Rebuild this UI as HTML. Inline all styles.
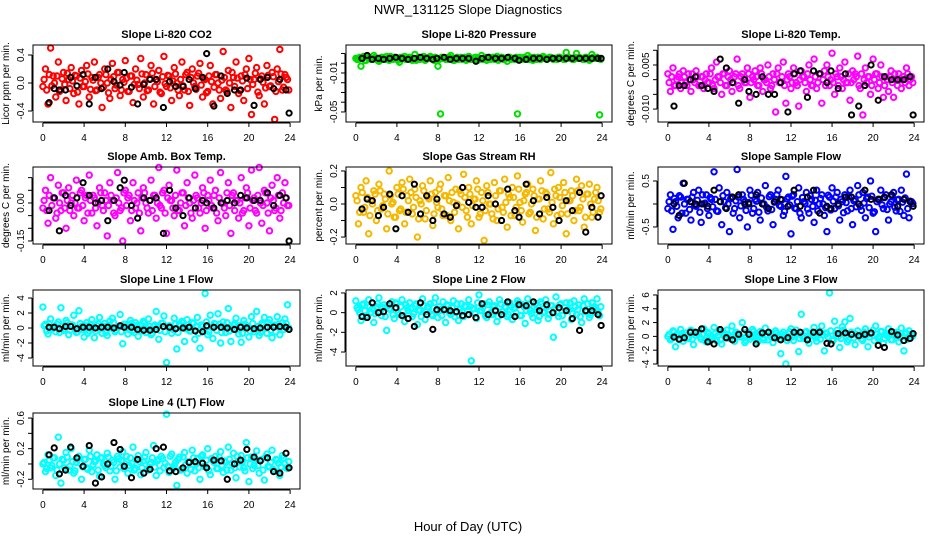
<!DOCTYPE html>
<html><head><meta charset="utf-8"><style>
body{margin:0;background:#fff}
svg{display:block;font-family:"Liberation Sans",sans-serif}
</style></head><body>
<svg id="chart" width="936" height="540" viewBox="0 0 936 540">
<rect width="936" height="540" fill="#fff"/>
<text x="468" y="14" font-size="13" text-anchor="middle">NWR_131125  Slope Diagnostics</text>
<text x="468" y="531" font-size="13" text-anchor="middle">Hour of Day (UTC)</text>
</svg>
<script>
const hours = [0,0.25,0.5,0.75,1,1.25,1.5,1.75,2,2.25,2.5,2.75,3,3.25,3.5,3.75,4,4.25,4.5,4.75,5,5.25,5.5,5.75,6,6.25,6.5,6.75,7,7.25,7.5,7.75,8,8.25,8.5,8.75,9,9.25,9.5,9.75,10,10.25,10.5,10.75,11,11.25,11.5,11.75,12,12.25,12.5,12.75,13,13.25,13.5,13.75,14,14.25,14.5,14.75,15,15.25,15.5,15.75,16,16.25,16.5,16.75,17,17.25,17.5,17.75,18,18.25,18.5,18.75,19,19.25,19.5,19.75,20,20.25,20.5,20.75,21,21.25,21.5,21.75,22,22.25,22.5,22.75,23,23.25,23.5,23.75];
const coreHours = [0.12,0.37,0.62,0.87,1.12,1.37,1.62,1.87,2.12,2.37,2.62,2.87,3.12,3.37,3.62,3.87,4.12,4.37,4.62,4.87,5.12,5.37,5.62,5.87,6.12,6.37,6.62,6.87,7.12,7.37,7.62,7.87,8.12,8.37,8.62,8.87,9.12,9.37,9.62,9.87,10.12,10.37,10.62,10.87,11.12,11.37,11.62,11.87,12.12,12.37,12.62,12.87,13.12,13.37,13.62,13.87,14.12,14.37,14.62,14.87,15.12,15.37,15.62,15.87,16.12,16.37,16.62,16.87,17.12,17.37,17.62,17.87,18.12,18.37,18.62,18.87,19.12,19.37,19.62,19.87,20.12,20.37,20.62,20.87,21.12,21.37,21.62,21.87,22.12,22.37,22.62,22.87,23.12,23.37,23.62,23.87];
const blackHours = [0.6,1.1,1.6,2.2,2.7,3.3,3.9,4.5,5.1,5.7,6.3,6.9,7.5,7.9,8.6,9.2,9.8,10.4,11.0,11.7,12.3,12.9,13.6,14.2,14.8,15.5,15.9,16.6,17.3,17.9,18.6,19.2,19.8,20.5,21.1,21.8,22.4,23.0,23.6,23.9];
const xTicks = [0,4,8,12,16,20,24];

const co2 = [-0.05,0.2,-0.3,0.5,0.1,-0.2,0.3,-0.1,0.15,-0.25,0.05,0.22,-0.15,0.1,-0.3,0.18,-0.05,0.25,-0.2,0.08,0.3,-0.1,0.12,-0.35,0.2,0.0,-0.22,0.28,-0.08,0.15,-0.18,0.05,0.32,-0.12,0.1,-0.28,0.2,-0.02,0.35,-0.2,0.12,-0.1,0.25,-0.3,0.05,0.18,-0.15,0.38,-0.05,0.1,-0.25,0.22,0.0,-0.18,0.3,-0.1,0.15,-0.32,0.2,-0.05,0.1,0.28,-0.2,0.05,-0.12,0.25,-0.3,0.12,0.0,-0.22,0.45,-0.1,0.18,-0.35,0.08,0.3,-0.15,0.1,-0.25,0.2,0.35,-0.45,0.05,0.22,-0.18,0.1,-0.3,0.25,-0.05,0.15,-0.52,0.2,0.48,-0.1,0.12,0.05];
const co2Core = [0.05,-0.1,0.12,-0.04,0.0,0.1,-0.12,0.06,-0.02,0.14,-0.08,0.03,0.11,-0.13,0.07,-0.05,0.02,0.13,-0.09,0.04,-0.11,0.08,0.0,-0.06,0.12,-0.14,0.05,0.09,-0.03,0.15,-0.1,0.01,0.07,-0.12,0.1,-0.02,0.04,-0.08,0.13,0.0,-0.11,0.06,0.14,-0.05,0.02,-0.13,0.09,-0.01,0.11,-0.07,0.03,0.13,-0.1,0.05,-0.04,0.12,-0.12,0.08,0.0,-0.09,0.14,-0.03,0.06,-0.14,0.1,0.02,-0.06,0.12,-0.1,0.04,0.08,-0.12,0.0,0.15,-0.05,0.07,-0.11,0.03,0.12,-0.08,0.05,-0.02,0.14,-0.13,0.06,0.01,-0.07,0.11,-0.04,0.09,-0.12,0.02,0.13,-0.06,0.08,-0.1];
const co2Black = [-0.28,-0.08,-0.1,-0.1,0.08,-0.04,0.12,-0.3,0.08,-0.08,0.2,0.02,-0.03,0.15,-0.06,-0.3,-0.02,0.05,0.05,-0.35,0.02,-0.05,-0.05,0.05,-0.08,0.08,0.42,-0.33,0.1,-0.15,-0.1,-0.1,0.07,-0.32,0.05,0.08,-0.08,0.05,-0.1,-0.43];
const pres = [0.005,0.004,-0.003,0.007,0.003,0.006,0.004,0.008,0.005,0.002,0.006,0.004,0.007,0.003,0.005,0.006,0.004,0.001,0.005,0.007,0.004,0.006,0.003,0.009,0.005,0.004,0.006,0.003,0.005,0.007,0.004,0.006,-0.003,-0.052,0.005,0.004,0.006,0.008,0.003,0.005,0.004,0.006,0.005,0.003,0.007,0.004,0.005,0.006,0.004,0.008,0.005,0.003,0.006,0.005,0.004,0.007,0.005,0.006,0.004,0.002,0.006,0.005,0.004,-0.052,0.006,0.005,0.004,0.008,0.006,0.003,0.005,0.006,0.004,0.007,0.005,0.005,0.006,0.004,0.005,0.006,0.005,0.004,0.011,0.006,0.005,0.004,0.01,0.006,0.005,0.004,0.006,0.003,0.009,0.005,0.006,-0.053];
const presCore = [0.004,0.006,0.005,0.003,0.006,0.005,0.004,0.006,0.003,0.005,0.006,0.004,0.005,0.007,0.004,0.005,0.003,0.006,0.005,0.004,0.006,0.005,0.004,0.003,0.006,0.005,0.007,0.004,0.005,0.006,0.003,0.005,0.004,0.006,0.005,0.004,0.006,0.005,0.003,0.006,0.005,0.004,0.006,0.005,0.004,0.005,0.006,0.003,0.005,0.004,0.006,0.005,0.004,0.006,0.005,0.003,0.006,0.004,0.005,0.006,0.004,0.005,0.006,0.005,0.004,0.006,0.005,0.004,0.005,0.006,0.004,0.005,0.006,0.005,0.004,0.006,0.005,0.005,0.004,0.006,0.005,0.004,0.006,0.005,0.004,0.006,0.005,0.005,0.004,0.006,0.005,0.004,0.006,0.005,0.005,0.004];
const presBlack = [0.005,0.008,0.004,0.005,0.004,0.005,0.006,0.005,0.004,0.005,0.006,0.005,0.004,0.005,0.006,0.004,0.005,0.005,0.005,0.002,0.005,0.006,0.005,0.005,0.006,0.005,0.003,0.004,0.005,0.005,0.004,0.005,0.005,0.005,0.005,0.005,0.005,0.005,0.005,0.005];
const temp = [0.002,-0.004,0.004,-0.002,0.001,-0.003,0.003,-0.001,0.002,-0.004,0.0,0.003,-0.002,0.001,-0.003,0.002,-0.001,0.004,-0.003,0.006,0.001,-0.005,0.002,-0.002,0.003,-0.004,0.001,0.007,-0.003,0.002,-0.001,0.004,-0.006,0.001,0.003,-0.002,0.004,-0.004,0.0,0.005,-0.003,0.002,-0.011,0.004,-0.001,0.006,-0.008,0.002,-0.003,0.004,-0.001,-0.009,0.003,0.001,-0.004,0.005,-0.002,0.007,-0.003,0.002,-0.008,0.003,0.005,-0.002,0.009,-0.005,0.001,0.004,-0.003,0.006,-0.001,-0.007,0.003,0.002,0.008,-0.003,-0.012,0.004,0.001,-0.005,0.007,0.002,-0.003,0.005,-0.006,0.001,-0.004,0.003,-0.006,0.0,0.002,-0.003,0.001,0.004,-0.002,0.001];
const tempCore = [-0.001,0.001,-0.002,0.0,0.002,-0.001,0.001,-0.002,0.0,0.002,-0.001,0.001,-0.002,0.001,0.0,-0.001,0.002,-0.002,0.0,0.001,-0.001,0.002,-0.002,0.001,0.0,-0.001,0.002,-0.002,0.001,0.0,-0.001,0.002,-0.001,0.0,0.001,-0.002,0.002,0.0,-0.001,0.001,-0.002,0.0,0.002,-0.001,0.001,-0.002,0.0,0.001,-0.001,0.002,-0.002,0.0,0.001,-0.001,0.002,0.0,-0.002,0.001,-0.001,0.002,0.0,-0.002,0.001,0.0,-0.001,0.002,-0.002,0.001,0.0,-0.001,0.002,-0.001,0.0,0.001,-0.002,0.002,0.0,-0.001,0.001,-0.002,0.0,0.002,-0.001,0.001,-0.002,0.0,0.001,-0.001,0.002,-0.002,0.0,0.001,-0.001,0.002,0.0,-0.001];
const tempBlack = [-0.009,-0.002,-0.002,0.0,0.001,-0.002,-0.003,-0.004,0.007,0.004,-0.001,-0.008,0.0,-0.004,-0.005,0.001,-0.005,-0.005,-0.001,-0.011,0.002,0.003,-0.006,0.003,0.002,-0.001,0.003,-0.003,0.002,-0.012,-0.009,-0.002,0.005,-0.007,0.001,0.0,0.0,0.0,0.001,-0.012];
const amb = [-0.02,0.05,-0.08,0.1,0.02,-0.06,0.07,-0.03,0.04,-0.1,0.06,0.0,-0.05,0.09,-0.02,0.05,-0.07,0.03,0.11,-0.04,0.02,-0.09,0.06,-0.01,0.04,-0.13,0.08,0.01,-0.05,0.12,-0.03,-0.15,0.05,0.02,-0.07,0.08,-0.02,0.04,-0.11,0.06,0.0,-0.04,0.09,0.03,-0.06,0.14,-0.02,0.05,-0.12,0.07,0.01,-0.05,0.13,-0.03,0.04,-0.09,0.08,0.0,-0.06,0.11,0.02,-0.04,0.06,-0.1,0.03,0.09,-0.02,0.05,-0.07,0.12,0.0,-0.05,0.08,-0.12,0.04,0.01,-0.06,0.1,-0.03,0.06,-0.09,0.13,0.02,-0.04,0.14,-0.08,0.05,0.0,-0.11,0.07,-0.03,0.1,-0.06,0.04,0.08,-0.01];
const ambCore = [0.01,-0.03,0.03,-0.01,0.02,-0.04,0.0,0.04,-0.02,0.01,-0.03,0.03,0.0,-0.02,0.04,-0.01,0.02,-0.04,0.01,0.03,-0.02,0.0,0.04,-0.03,0.01,-0.01,0.03,-0.04,0.02,0.0,-0.02,0.04,-0.01,0.03,-0.03,0.01,0.0,-0.04,0.02,0.04,-0.02,0.01,-0.03,0.03,0.0,-0.01,0.04,-0.04,0.02,0.01,-0.02,0.03,-0.03,0.0,0.04,-0.01,0.02,-0.04,0.01,0.03,-0.02,0.0,0.04,-0.03,0.01,-0.01,0.03,-0.04,0.02,0.0,-0.02,0.04,-0.01,0.03,-0.03,0.01,0.0,-0.04,0.02,0.04,-0.02,0.01,-0.03,0.03,0.0,-0.01,0.04,-0.04,0.02,0.01,-0.02,0.03,-0.03,0.0,0.02,-0.01];
const ambBlack = [-0.03,0.02,-0.11,0.03,-0.01,0.02,0.08,0.03,0.0,0.01,-0.07,0.01,0.06,0.09,-0.01,-0.06,0.02,0.01,0.02,-0.12,0.05,-0.02,-0.05,0.02,-0.02,0.01,0.0,-0.02,0.0,0.01,0.0,0.03,0.02,0.01,0.01,0.04,-0.01,0.03,0.02,-0.15];
const rh = [0.05,-0.12,0.1,-0.05,0.14,-0.18,0.02,0.08,-0.1,0.12,-0.03,0.06,-0.15,0.2,0.0,-0.08,0.1,-0.04,0.13,-0.12,0.05,0.15,-0.06,0.09,-0.2,0.02,0.11,-0.09,0.04,0.14,-0.13,0.07,-0.02,0.12,-0.07,0.05,0.16,-0.1,0.01,0.09,-0.15,0.06,0.18,-0.04,0.1,-0.12,0.03,0.14,-0.08,0.07,-0.22,0.11,0.0,-0.06,0.13,-0.1,0.08,-0.02,0.15,-0.14,0.04,0.1,-0.07,0.17,0.01,-0.11,0.06,0.12,-0.05,0.09,-0.16,0.03,0.14,-0.09,0.07,-0.03,0.19,-0.12,0.05,0.1,-0.06,0.13,-0.18,0.02,0.08,-0.1,0.15,-0.04,0.11,-0.14,0.06,0.12,-0.08,0.03,0.1,-0.05];
const rhCore = [0.02,-0.05,0.07,-0.02,0.04,-0.07,0.0,0.06,-0.04,0.08,-0.01,0.03,-0.06,0.05,0.01,-0.08,0.06,-0.03,0.09,-0.05,0.02,0.07,-0.02,0.04,-0.09,0.0,0.08,-0.04,0.03,0.06,-0.06,0.01,0.09,-0.03,0.05,-0.07,0.02,0.07,-0.05,0.0,0.08,-0.02,0.04,-0.08,0.06,-0.01,0.03,0.09,-0.06,0.02,-0.04,0.07,0.0,-0.09,0.05,-0.03,0.08,-0.05,0.01,0.06,-0.07,0.04,-0.02,0.09,-0.04,0.02,0.07,-0.06,0.0,0.05,-0.08,0.03,0.08,-0.03,0.06,-0.05,0.01,0.09,-0.07,0.04,-0.01,0.07,-0.06,0.02,0.05,-0.04,0.08,-0.02,0.03,-0.08,0.06,0.0,-0.05,0.07,0.02,-0.03];
const rhBlack = [-0.03,0.03,0.02,-0.07,-0.02,0.06,-0.15,0.05,-0.05,0.12,-0.06,0.05,-0.1,0.03,-0.06,-0.08,-0.01,0.1,0.01,-0.02,-0.02,0.05,0.0,-0.1,0.09,-0.04,-0.08,0.12,0.02,-0.06,0.04,-0.02,-0.1,0.02,-0.04,0.07,-0.17,-0.02,-0.08,0.05];
const flow = [-0.1,0.2,-0.55,0.05,-0.3,0.15,0.45,-0.2,0.1,-0.35,0.25,-0.05,0.3,-0.4,0.0,0.2,-0.25,0.1,0.7,-0.15,0.35,-0.45,0.05,0.25,-0.6,0.15,-0.1,0.75,-0.3,0.2,0.05,-0.5,0.3,-0.2,0.1,0.25,-0.35,0.0,0.4,-0.15,0.2,-0.45,0.1,0.3,-0.05,-0.25,0.6,0.15,-0.65,0.2,-0.1,0.35,-0.3,0.05,0.25,-0.2,0.1,-0.4,0.3,0.0,0.2,-0.25,-0.6,0.15,0.35,-0.1,0.25,-0.35,0.05,0.2,-0.15,0.3,-0.45,0.1,0.4,-0.05,0.25,-0.3,0.15,0.5,-0.2,-0.6,0.1,0.3,-0.1,0.2,-0.35,0.05,0.25,-0.15,0.1,0.3,-0.25,0.65,-0.3,0.05];
const flowCore = [0.05,-0.15,0.12,-0.05,0.18,-0.2,0.0,0.1,-0.12,0.15,-0.03,0.08,-0.18,0.2,0.02,-0.1,0.14,-0.06,0.1,-0.16,0.05,0.18,-0.08,0.0,0.12,-0.2,0.07,0.15,-0.04,0.1,-0.14,0.03,0.19,-0.1,0.06,-0.18,0.13,0.0,-0.07,0.16,-0.12,0.04,0.2,-0.03,0.09,-0.16,0.11,-0.02,0.17,-0.09,0.05,-0.2,0.14,0.01,-0.11,0.18,-0.05,0.08,-0.15,0.12,0.0,-0.08,0.19,-0.13,0.06,0.15,-0.04,0.1,-0.19,0.03,0.16,-0.1,0.07,-0.06,0.2,-0.14,0.02,0.12,-0.08,0.17,-0.17,0.05,0.1,-0.02,0.14,-0.12,0.0,0.18,-0.07,0.09,-0.16,0.04,0.13,-0.1,0.06,0.01];
const flowBlack = [0.0,-0.25,0.45,0.05,0.0,0.0,-0.05,0.3,0.05,-0.1,0.15,0.2,0.0,0.0,0.2,0.0,-0.1,0.05,0.1,-0.05,0.3,-0.05,0.15,0.3,-0.2,-0.05,-0.1,0.0,0.15,0.15,0.0,0.3,0.1,0.1,0.15,0.2,-0.05,0.1,0.05,-0.05];
const line1 = [2.8,0.5,-0.8,1.2,0.0,-0.5,0.8,2.7,-0.3,1.0,-0.9,0.4,1.7,-0.6,2.3,0.2,-1.2,0.7,-0.4,1.1,-1.3,0.3,1.4,-0.7,0.6,-1.0,0.9,1.3,-0.5,0.1,1.8,-2.1,0.5,-0.8,1.0,-0.3,0.7,-1.1,0.4,0.9,-0.6,1.2,-0.9,0.2,2.2,-1.5,0.6,1.6,-4.6,0.3,-0.7,1.3,-2.8,0.5,0.9,-1.8,1.1,-0.4,0.7,-1.5,1.4,-2.7,0.2,4.6,-0.9,1.7,-1.4,0.5,1.9,-2.0,0.8,-0.6,2.6,-1.8,0.4,1.3,-0.8,-1.9,1.0,0.3,-1.2,1.5,-0.5,2.2,-1.0,0.6,1.4,-0.7,1.1,-1.3,0.4,1.5,-0.9,0.7,1.2,3.1];
const line1Core = [0.3,-0.4,0.6,-0.2,0.1,0.5,-0.6,0.2,-0.1,0.7,-0.3,0.4,0.0,-0.5,0.6,-0.2,0.3,-0.7,0.5,0.1,-0.4,0.6,-0.1,0.2,-0.6,0.4,0.0,0.7,-0.3,0.2,-0.5,0.5,0.1,-0.2,0.6,-0.6,0.3,0.0,-0.4,0.7,-0.1,0.2,-0.7,0.4,0.1,-0.3,0.6,-0.5,0.2,0.0,-0.2,0.5,-0.6,0.3,0.7,-0.1,0.0,-0.4,0.6,0.2,-0.7,0.4,-0.2,0.8,-0.5,0.1,0.6,-0.3,0.5,-0.6,0.2,0.7,-0.4,0.0,0.6,-0.2,0.3,-0.7,0.5,0.1,-0.4,0.6,-0.1,0.2,-0.6,0.4,0.0,0.7,-0.3,0.2,-0.5,0.5,0.1,-0.2,0.6,0.0];
const line1Black = [0.1,0.1,-0.1,0.2,0.2,-0.1,0.1,0.1,0.0,0.1,0.1,0.0,0.3,0.1,0.1,-0.2,-0.3,-0.3,-0.2,0.2,0.1,-0.1,0.0,0.1,-0.4,-0.5,0.3,0.1,0.1,0.0,-0.2,0.1,0.0,-0.1,0.0,0.1,0.1,0.2,0.1,-0.2];
const line2 = [1.2,0.3,-0.8,0.9,-0.5,1.3,0.0,-1.0,0.6,1.5,-0.3,0.8,-1.8,0.4,1.1,-0.6,0.9,-0.2,1.3,-0.9,0.5,1.0,-0.4,0.7,-1.2,0.2,1.4,-0.7,0.6,0.9,-0.3,1.5,-0.5,0.3,1.1,-1.0,0.7,-0.2,1.2,0.0,-0.8,0.9,-0.4,0.6,1.3,-4.9,0.4,-0.6,1.8,0.2,0.9,-0.5,1.1,-0.2,0.7,-0.9,1.3,0.1,0.6,-0.4,1.0,-0.7,0.5,1.2,-0.3,0.8,-1.1,1.4,0.2,-0.5,0.9,-0.8,1.1,0.0,1.3,-0.6,0.7,-2.5,1.6,-0.4,0.9,-1.2,1.0,0.3,-0.7,1.2,-0.2,0.8,-1.0,1.4,0.1,-0.5,1.0,0.6,1.4,-0.3];
const line2Core = [0.5,0.0,0.8,0.2,-0.3,0.6,0.4,-0.1,0.9,0.1,0.5,-0.4,0.7,0.3,-0.2,1.0,0.0,0.6,-0.3,0.8,0.2,0.4,-0.1,0.9,0.3,-0.4,0.7,0.1,0.5,-0.2,1.0,0.2,0.6,-0.3,0.4,0.8,0.0,0.5,-0.4,0.9,0.3,0.1,0.7,-0.2,0.6,0.4,-0.1,1.0,0.2,0.5,-0.3,0.8,0.0,0.6,0.3,-0.4,0.9,0.1,0.5,-0.2,0.7,0.4,0.0,1.0,-0.3,0.6,0.2,0.8,-0.1,0.5,0.3,-0.4,0.9,0.1,0.6,-0.2,0.7,0.4,0.0,0.8,-0.3,0.5,0.2,1.0,-0.1,0.6,0.3,-0.4,0.7,0.1,0.9,-0.2,0.5,0.4,0.0,0.6];
const line2Black = [-0.4,-0.5,1.0,0.0,0.1,0.9,0.5,-0.3,-0.6,-1.4,1.0,-0.2,-1.7,0.3,0.3,0.2,0.1,-0.3,-0.2,-0.5,0.9,-0.2,0.2,-0.2,1.1,-0.4,0.8,0.7,1.1,0.2,0.8,0.0,0.5,0.2,-0.6,-1.8,0.2,0.2,-0.2,-1.3];
const line3 = [0.0,-0.5,0.8,-1.5,0.3,1.0,-0.7,0.5,-0.3,0.9,-1.2,0.2,0.6,-0.4,1.1,-0.8,0.4,0.0,1.3,-0.6,0.7,-1.1,0.2,0.9,-0.3,1.5,-0.7,0.5,0.0,2.0,-0.9,0.6,-0.4,1.0,0.1,-0.8,0.7,-0.2,1.2,-0.5,0.3,-0.9,0.8,0.0,-2.5,0.6,-4.0,0.4,1.1,-0.6,0.9,-2.2,3.2,-0.3,0.7,-1.0,0.5,1.3,-0.7,0.2,1.5,-2.1,0.4,6.3,-0.5,2.2,0.9,-1.6,1.4,2.1,-0.8,2.6,0.3,-1.2,0.8,0.2,-0.6,1.1,-1.5,0.4,0.9,1.5,-0.3,0.7,-1.0,0.2,1.1,-0.5,0.6,0.3,-0.8,1.2,-2.1,0.4,0.8,0.0];
const line3Core = [0.3,-0.3,0.6,0.0,-0.5,0.4,0.1,-0.2,0.7,-0.4,0.2,0.5,-0.1,0.3,-0.6,0.6,0.0,-0.3,0.4,0.1,-0.5,0.7,-0.2,0.3,0.0,-0.4,0.6,0.2,-0.1,0.5,-0.6,0.3,0.0,0.7,-0.3,0.1,0.4,-0.5,0.2,0.6,-0.2,0.0,0.5,-0.4,0.3,0.1,-0.6,0.7,-0.1,0.2,0.4,-0.3,0.0,0.6,-0.5,0.3,0.1,-0.2,0.7,-0.4,0.2,0.5,-0.1,0.8,-0.6,0.4,0.0,-0.3,0.9,0.1,-0.5,0.6,-0.2,0.3,0.0,-0.4,0.6,0.2,-0.1,0.5,-0.6,0.3,0.0,0.7,-0.3,0.1,0.4,-0.5,0.2,0.6,-0.2,0.0,0.5,-0.4,0.3,0.1];
const line3Black = [-0.1,-0.4,-0.2,0.6,0.6,1.1,-0.8,-1.1,1.0,-0.2,-0.5,0.3,1.0,0.3,-1.1,0.5,0.6,-0.2,-0.5,-0.2,0.6,0.6,-0.5,0.6,0.6,-1.0,-1.1,0.4,0.5,0.3,0.1,0.3,0.5,-1.3,-1.6,0.7,0.2,-0.6,-0.3,0.4];
const line4 = [0.0,-0.1,0.12,-0.05,0.08,-0.15,0.35,-0.25,0.05,0.15,-0.08,0.2,-0.12,0.02,0.1,-0.2,0.06,-0.05,0.18,-0.1,0.03,0.12,-0.16,0.08,-0.02,0.14,-0.09,0.05,-0.2,0.1,-0.04,0.16,0.0,-0.12,0.08,0.22,-0.06,0.11,-0.14,0.04,0.15,-0.08,0.02,0.24,-0.15,0.06,0.1,-0.05,0.65,-0.11,0.13,-0.02,-0.28,0.09,-0.07,0.15,-0.12,0.03,0.18,-0.09,0.07,-0.2,0.12,-0.03,0.2,-0.14,0.05,0.1,-0.06,0.16,-0.11,0.02,0.22,-0.08,0.14,-0.18,0.04,0.11,-0.05,0.28,-0.23,0.09,-0.02,0.17,-0.12,0.06,-0.21,0.13,-0.04,0.18,-0.09,0.05,-0.15,0.11,0.0,-0.06];
const line4Core = [0.02,-0.06,0.05,-0.02,0.08,-0.08,0.0,0.06,-0.05,0.09,-0.03,0.03,-0.09,0.07,0.01,-0.04,0.06,-0.07,0.1,-0.01,0.04,-0.08,0.08,0.0,-0.05,0.09,-0.03,0.02,-0.09,0.07,0.05,-0.06,0.1,-0.02,0.01,-0.08,0.06,0.03,-0.05,0.09,-0.07,0.0,0.08,-0.04,0.04,-0.09,0.07,0.01,-0.03,0.1,-0.06,0.02,0.06,-0.08,0.09,-0.01,0.03,-0.07,0.08,0.0,-0.05,0.1,-0.03,0.05,-0.09,0.07,0.02,-0.06,0.09,-0.02,0.04,-0.08,0.06,0.01,-0.05,0.1,-0.04,0.03,-0.09,0.08,0.0,-0.06,0.07,-0.02,0.05,-0.08,0.09,-0.03,0.02,-0.07,0.06,0.01,-0.04,0.08,-0.05,0.03];
const line4Black = [0.12,0.21,-0.13,-0.08,0.22,0.08,-0.03,0.24,-0.25,-0.17,0.0,0.28,0.19,-0.03,-0.18,0.06,-0.12,-0.07,0.2,0.22,-0.09,-0.1,-0.05,0.02,0.03,0.01,-0.05,0.05,0.04,-0.2,0.0,0.05,0.19,0.09,0.04,0.08,-0.1,-0.12,0.14,-0.05];

const panels = [
 {name:'co2',title:'Slope Li-820 CO2',ylab:'Licor ppm per min.',box:[33,45,300,122],yd:[-0.557,0.543],ticks:[-0.4,0,0.4],labels:['-0.4','0.0','0.4'],vals:co2,core:co2Core,blk:co2Black,col:'#ff0000'},
 {name:'pressure',title:'Slope Li-820 Pressure',ylab:'kPa per min.',box:[346,45,612,122],yd:[-0.0603,0.0187],ticks:[0.01,0,-0.01,-0.02,-0.03,-0.04,-0.05],labels:['','','-0.01','','','','-0.05'],vals:pres,core:presCore,blk:presBlack,col:'#00e000'},
 {name:'li820-temp',title:'Slope Li-820 Temp.',ylab:'degrees C per min.',box:[658,45,924,122],yd:[-0.0144,0.0118],ticks:[0.01,0.005,0,-0.005,-0.01],labels:['','0.005','','','-0.010'],vals:temp,core:tempCore,blk:tempBlack,col:'#ff00ff'},
 {name:'amb-box-temp',title:'Slope Amb. Box Temp.',ylab:'degrees C per min.',box:[33,167,300,244],yd:[-0.162,0.142],ticks:[0.1,0.05,0,-0.05,-0.1,-0.15],labels:['','','0.00','','','-0.15'],vals:amb,core:ambCore,blk:ambBlack,col:'#ff00ff'},
 {name:'gas-stream-rh',title:'Slope Gas Stream RH',ylab:'percent per min.',box:[346,167,612,244],yd:[-0.242,0.224],ticks:[0.2,0.1,0,-0.1,-0.2],labels:['0.2','','0.0','','-0.2'],vals:rh,core:rhCore,blk:rhBlack,col:'#f5b800'},
 {name:'sample-flow',title:'Slope Sample Flow',ylab:'ml/min per min.',box:[658,167,924,244],yd:[-0.87,0.804],ticks:[0.5,0,-0.5],labels:['0.5','','-0.5'],vals:flow,core:flowCore,blk:flowBlack,col:'#0000ff'},
 {name:'line1-flow',title:'Slope Line 1 Flow',ylab:'ml/min per min.',box:[33,290,300,366],yd:[-5.07,5.07],ticks:[4,2,0,-2,-4],labels:['4','2','0','-2','-4'],vals:line1,core:line1Core,blk:line1Black,col:'#00ffff'},
 {name:'line2-flow',title:'Slope Line 2 Flow',ylab:'ml/min per min.',box:[346,290,612,366],yd:[-5.42,2.3],ticks:[2,0,-2,-4],labels:['2','0','-2','-4'],vals:line2,core:line2Core,blk:line2Black,col:'#00ffff'},
 {name:'line3-flow',title:'Slope Line 3 Flow',ylab:'ml/min per min.',box:[658,290,924,366],yd:[-4.29,6.72],ticks:[6,4,2,0,-2,-4],labels:['6','4','2','0','-2','-4'],vals:line3,core:line3Core,blk:line3Black,col:'#00ffff'},
 {name:'line4-flow',title:'Slope Line 4 (LT) Flow',ylab:'ml/min per min.',box:[33,413,300,489],yd:[-0.327,0.666],ticks:[0.6,0.4,0.2,0,-0.2],labels:['0.6','','0.2','','-0.2'],vals:line4,core:line4Core,blk:line4Black,col:'#00ffff'}
];

const NS='http://www.w3.org/2000/svg';
const svg=document.getElementById('chart');
function mk(tag,attrs,parent){const e=document.createElementNS(NS,tag);for(const k in attrs)e.setAttribute(k,attrs[k]);parent.appendChild(e);return e;}

panels.forEach(p=>{
  const [x0,y0,x1,y1]=p.box;
  const xs=v=>x0+(v+0.96)/25.92*(x1-x0);
  const ys=v=>y1-(v-p.yd[0])/(p.yd[1]-p.yd[0])*(y1-y0);
  const g=mk('g',{},svg);
  
  
  const t=mk('text',{x:(x0+x1)/2,y:y0-7,'font-size':11,'font-weight':'bold','text-anchor':'middle'},g);
  t.textContent=p.title;
  
  
  const yl=mk('text',{transform:`translate(${x0-24},${(y0+y1)/2}) rotate(-90)`,'font-size':10,'text-anchor':'middle'},g);
  yl.textContent=p.ylab;
  
  
  const pg=mk('g',{fill:'none','stroke-width':2},g);
  
  
  p.vals.forEach((v,i)=>{
    if(i>=hours.length)return;
    const c=mk('circle',{cx:xs(hours[i]),cy:ys(v),r:2.7,stroke:p.col},pg);
    
    
  });
  p.core.forEach((v,i)=>{
    if(i>=coreHours.length)return;
    const c=mk('circle',{cx:xs(coreHours[i]),cy:ys(v),r:2.7,stroke:p.col},pg);
    
    
  });
  p.blk.forEach((v,i)=>{
    if(i>=blackHours.length)return;
    const c=mk('circle',{cx:xs(blackHours[i]),cy:ys(v),r:2.6,stroke:'#000'},pg);
    
    
  });
  const box=mk('rect',{x:x0,y:y0,width:x1-x0,height:y1-y0,fill:'none',stroke:'#000','stroke-width':1},g);
  
  
  const xa=mk('g',{},g);
  
  
  mk('line',{x1:xs(0),x2:xs(24),y1:y1+1,y2:y1+1,stroke:'#000'},xa);
  xTicks.forEach(v=>{
    mk('line',{x1:xs(v),x2:xs(v),y1:y1+1,y2:y1+5,stroke:'#000'},xa);
    const tl=mk('text',{x:xs(v),y:y1+19,'font-size':10,'text-anchor':'middle'},xa);
    tl.textContent=v;
    
    
  });
  const ya=mk('g',{},g);
  
  
  const yt=p.ticks.filter(v=>ys(v)>=y0-0.5&&ys(v)<=y1+0.5);
  mk('line',{x1:x0-1,x2:x0-1,y1:ys(Math.max(...yt)),y2:ys(Math.min(...yt)),stroke:'#000'},ya);
  p.ticks.forEach((v,i)=>{
    const yy=ys(v); if(yy<y0-0.5||yy>y1+0.5)return;
    mk('line',{x1:x0-1,x2:x0-5,y1:yy,y2:yy,stroke:'#000'},ya);
    if(p.labels[i]){
      const tl=mk('text',{transform:`translate(${x0-9},${yy}) rotate(-90)`,'font-size':10,'text-anchor':'middle'},ya);
      tl.textContent=p.labels[i];
      
      
    }
  });
});
</script>
</body></html>
